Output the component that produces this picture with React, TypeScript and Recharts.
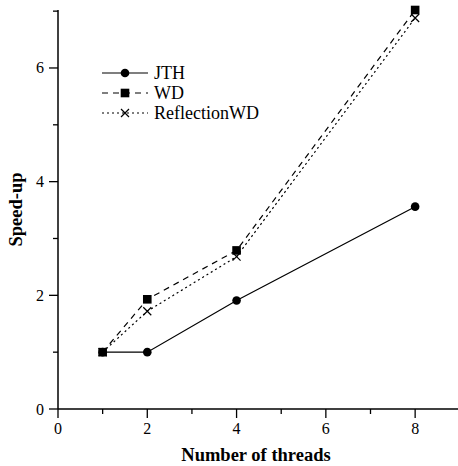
import React from 'react';
import { LineChart, Line, XAxis, YAxis } from 'recharts';

// values
const threads = [1, 2, 4, 8];
const jth = [1, 1, 1.91, 3.56];
const wd = [1, 1.93, 2.79, 7.02];
const reflectionWd = [1, 1.72, 2.68, 6.88];

const xTicks = [0, 1, 2, 3, 4, 5, 6, 7, 8];
const yTicks = [0, 1, 2, 3, 4, 5, 6, 7];

const data = threads.map((t, i) => ({
    threads: t,
    JTH: jth[i],
    WD: wd[i],
    ReflectionWD: reflectionWd[i],
}));

const FONT = '"Liberation Serif", "Times New Roman", Times, serif';

type Marker = 'circle' | 'square' | 'cross';

const SERIES: { key: string; dash?: string; marker: Marker }[] = [
    { key: 'JTH', marker: 'circle' },
    { key: 'WD', dash: '6 5', marker: 'square' },
    { key: 'ReflectionWD', dash: '2 3', marker: 'cross' },
];

const drawMarker = (m: Marker, cx: number, cy: number, k?: string) => {
    if (m === 'circle') return <circle key={k} cx={cx} cy={cy} r={4.3} fill="#000" />;
    if (m === 'square') return <rect key={k} x={cx - 4.3} y={cy - 4.3} width={8.6} height={8.6} fill="#000" />;
    return (
        <path
            key={k}
            d={`M${cx - 4} ${cy - 4}L${cx + 4} ${cy + 4}M${cx - 4} ${cy + 4}L${cx + 4} ${cy - 4}`}
            stroke="#000"
            strokeWidth={1.2}
            fill="none"
        />
    );
};

const XTick = (props: any) => {
    const { x, y, payload } = props;
    const major = payload.value % 2 === 0;
    return (
        <g>
            <line x1={x} x2={x} y1={y} y2={y + (major ? 9 : 5)} stroke="#000" strokeWidth={1.3} />
            {major && (
                <text x={x} y={y + 25} textAnchor="middle" style={{ fontFamily: FONT, fontSize: 16 }} fill="#000">
                    {payload.value}
                </text>
            )}
        </g>
    );
};

const YTick = (props: any) => {
    const { x, y, payload } = props;
    const major = payload.value % 2 === 0;
    return (
        <g>
            <line x1={x} x2={x - (major ? 9 : 5)} y1={y} y2={y} stroke="#000" strokeWidth={1.3} />
            {major && (
                <text x={x - 14} y={y + 5.5} textAnchor="end" style={{ fontFamily: FONT, fontSize: 16 }} fill="#000">
                    {payload.value}
                </text>
            )}
        </g>
    );
};

const ChartLegend = () => (
    <div style={{ position: 'absolute', left: 100, top: 63, fontFamily: FONT, fontSize: 18, color: '#000' }}>
        {SERIES.map((s) => (
            <div key={s.key} style={{ display: 'flex', alignItems: 'center', height: 20 }}>
                <svg width={50} height={20}>
                    <line x1={2} x2={48} y1={10} y2={10} stroke="#000" strokeWidth={1.2} strokeDasharray={s.dash} />
                    {drawMarker(s.marker, 25, 10)}
                </svg>
                <span style={{ marginLeft: 4, lineHeight: '20px' }}>{s.key}</span>
            </div>
        ))}
    </div>
);

const App: React.FC = () => {
    return (
        <div style={{ position: 'absolute', left: 0, top: 0, width: 458, height: 466, background: '#fff' }}>
            <LineChart width={458} height={466} data={data} margin={{ top: 10, right: 0, bottom: 0, left: 0 }}>
                <XAxis
                    dataKey="threads"
                    type="number"
                    domain={[0, 8.96]}
                    ticks={xTicks}
                    interval={0}
                    height={57}
                    tickSize={0}
                    tickMargin={0}
                    tickLine={false}
                    tick={<XTick />}
                    axisLine={{ stroke: '#000', strokeWidth: 1.5 }}
                    label={(p: any) => {
                        const vb = p.viewBox;
                        return (
                            <text
                                x={vb.x + vb.width / 2 - 2}
                                y={vb.y + 52}
                                textAnchor="middle"
                                style={{ fontFamily: FONT, fontWeight: 'bold', fontSize: 18.5 }}
                                fill="#000"
                            >
                                Number of threads
                            </text>
                        );
                    }}
                />
                <YAxis
                    type="number"
                    domain={[0, 7]}
                    ticks={yTicks}
                    interval={0}
                    width={58}
                    tickSize={0}
                    tickMargin={0}
                    tickLine={false}
                    tick={<YTick />}
                    axisLine={{ stroke: '#000', strokeWidth: 1.5 }}
                    label={(p: any) => {
                        const vb = p.viewBox;
                        const cx = 22;
                        const cy = vb.y + vb.height / 2;
                        return (
                            <text
                                x={cx}
                                y={cy}
                                transform={`rotate(-90, ${cx}, ${cy})`}
                                textAnchor="middle"
                                style={{ fontFamily: FONT, fontWeight: 'bold', fontSize: 18.5 }}
                                fill="#000"
                            >
                                Speed-up
                            </text>
                        );
                    }}
                />
                {SERIES.map((s) => (
                    <Line
                        key={s.key}
                        dataKey={s.key}
                        stroke="#000"
                        strokeWidth={1.2}
                        strokeDasharray={s.dash}
                        isAnimationActive={false}
                        dot={(p: any) => drawMarker(s.marker, p.cx, p.cy, `${s.key}-${p.index}`)}
                        activeDot={false}
                    />
                ))}
            </LineChart>
            <ChartLegend />
        </div>
    );
};

export default App;
